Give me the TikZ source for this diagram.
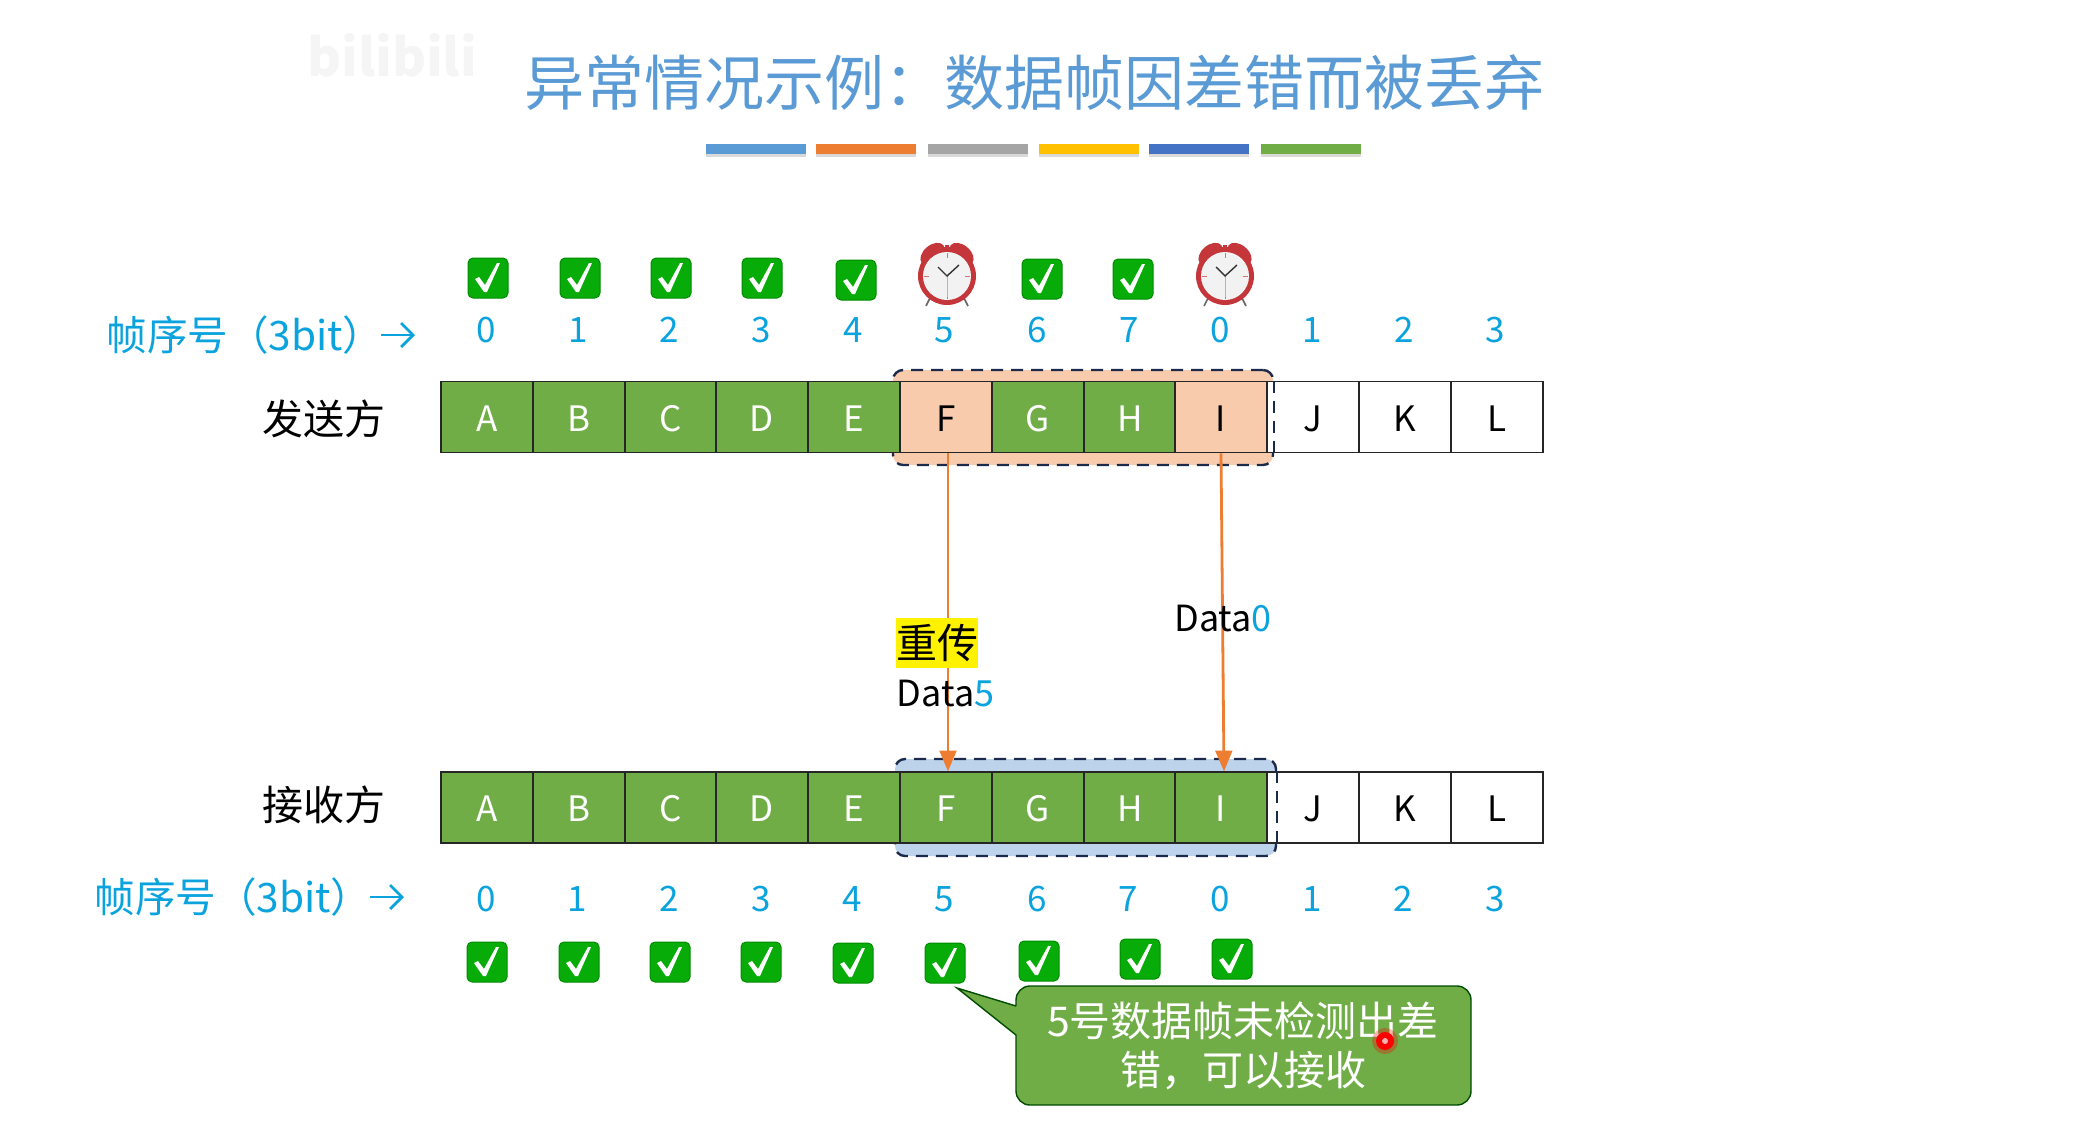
\documentclass[tikz,border=0pt]{standalone}
\usepackage{fontspec}
\setmainfont{Noto Sans CJK SC}
\usepackage{tikz}
\usetikzlibrary{arrows,arrows.meta,shadows}
\definecolor{titleblue}{HTML}{5B9BD5}
\definecolor{numblue}{HTML}{0BA3DE}
\definecolor{okgreen}{HTML}{70AD47}
\definecolor{barorange}{HTML}{ED7D31}
\definecolor{bargray}{HTML}{A5A5A5}
\definecolor{baryellow}{HTML}{FFC000}
\definecolor{bardeep}{HTML}{4472C4}
\definecolor{peach}{HTML}{F8CBAD}
\definecolor{paleblue}{HTML}{BDD3EC}
\definecolor{winline}{HTML}{1B2A4A}
\definecolor{tickgreen}{HTML}{08AC08}
\definecolor{clockred}{HTML}{C5363A}
\tikzset{
  bar/.style={minimum width=50pt,minimum height=5pt,inner sep=0pt,drop shadow={shadow xshift=0pt,shadow yshift=-1.5pt,opacity=.3}},
  cell/.style={draw=black!85,line width=.8pt,minimum width=45.9pt,minimum height=35.5pt,inner sep=0pt,text height=14pt,text depth=0pt,font=\fontsize{17.5}{20}\selectfont},
  done/.style={cell,fill=okgreen,text=white},
  sent/.style={cell,fill=peach},
  idle/.style={cell,fill=white},
  num/.style={text=numblue,inner sep=0pt,text height=12.5pt,text depth=0pt,font=\fontsize{17.5}{20}\selectfont},
  side/.style={inner sep=0pt,font=\fontsize{20.5}{24}\selectfont},
  seqlabel/.style={text=numblue,inner sep=0pt,font=\fontsize{20.3}{24}\selectfont},
  data/.style={inner sep=0pt,font=\fontsize{18}{20}\selectfont},
  win/.style={draw=winline,line width=1.2pt,dash pattern=on 6pt off 4pt,rounded corners=5pt,inner sep=0pt},
  windash/.style={draw=winline,line width=1.2pt,dash pattern=on 6pt off 4pt},
  frame/.style={-triangle 45,color=barorange,line width=1.4pt},
  seqarrow/.style={-{Straight Barb[length=6pt,width=12pt]},color=numblue,line width=1.4pt},
  okmark/.pic={
    \draw[fill=tickgreen,draw=green!55!black,line width=.5pt,rounded corners=2.5pt] (-20,-20) rectangle (20,20);
    \fill[white] (-13,1) -- (-9,-1) -- (-3,7) -- (9,-15) -- (12,-15) -- (-1,14) -- (-4,14) -- cycle;
  },
  alarm/.pic={
    \draw[black!60,line width=.8pt] (-17,22) -- (-21,30);
    \draw[black!60,line width=.8pt] (17,22) -- (21,30);
    \fill[clockred,rotate=-40] (-3,-26) ellipse (14pt*.5 and 9pt*.5);
    \fill[clockred,rotate=40] (3,-26) ellipse (14pt*.5 and 9pt*.5);
    \fill[clockred] (-2,-31) rectangle (2,-26);
    \fill[clockred] (0,0) circle (14.5pt);
    \fill[black!5] (0,0) circle (12pt);
    \draw[clockred!70,line width=.5pt] (0,-23) -- (0,-18);
    \draw[clockred!70,line width=.5pt] (0,23) -- (0,18);
    \draw[clockred!70,line width=.5pt] (-23,0) -- (-18,0);
    \draw[clockred!70,line width=.5pt] (23,0) -- (18,0);
    \draw[orange!70,line width=.4pt] (0,0) -- (0,21);
    \draw[black!80,line width=.7pt] (-9,-9) -- (0,0) -- (12,-11);
  }
}
\begin{document}
\begin{tikzpicture}[x=.5pt,y=-.5pt]
  \useasboundingbox (0,0) rectangle (2097,1130);
  \draw (392,55) node[text=black!4,font=\fontsize{26}{30}\selectfont\bfseries] (logo) {bilibili};
  \draw (1034,83) node[text=titleblue,inner sep=0pt,font=\fontsize{30}{36}\selectfont] (title) {异常情况示例^^^^ff1a数据帧因差错而被丢弃};

  \draw (756,149) node[bar,fill=titleblue] (bar1) {};
  \draw (865.5,149) node[bar,fill=barorange] (bar2) {};
  \draw (978,149) node[bar,fill=bargray] (bar3) {};
  \draw (1088.5,149) node[bar,fill=baryellow] (bar4) {};
  \draw (1199,149) node[bar,fill=bardeep] (bar5) {};
  \draw (1311,149) node[bar,fill=okgreen] (bar6) {};

  \draw (488,278) pic (sok0) {okmark};
  \draw (580,278) pic (sok1) {okmark};
  \draw (671,278) pic (sok2) {okmark};
  \draw (762,278) pic (sok3) {okmark};
  \draw (856,280) pic (sok4) {okmark};
  \draw (947,276) pic (clock5) {alarm};
  \draw (1042,279) pic (sok6) {okmark};
  \draw (1133,279) pic (sok7) {okmark};
  \draw (1225,276) pic (clock0) {alarm};

  \draw (245,335) node[seqlabel] (seqS) {帧序号^^^^ff083bit^^^^ff09};
  \draw (381,335) coordinate (seqSa);
  \draw (415,335) coordinate (seqSb);
  \path[seqarrow] (seqSa) edge (seqSb);
  \draw (486,330) node[num] (sn0) {0};
  \draw (578,330) node[num] (sn1) {1};
  \draw (669,330) node[num] (sn2) {2};
  \draw (761,330) node[num] (sn3) {3};
  \draw (853,330) node[num] (sn4) {4};
  \draw (944,330) node[num] (sn5) {5};
  \draw (1037,330) node[num] (sn6) {6};
  \draw (1129,330) node[num] (sn7) {7};
  \draw (1220,330) node[num] (sn8) {0};
  \draw (1312,330) node[num] (sn9) {1};
  \draw (1404,330) node[num] (sn10) {2};
  \draw (1495,330) node[num] (sn11) {3};

  \draw (324,419) node[side] (sender) {发送方};
  \draw (1083,417.5) node[win,fill=peach,minimum width=190pt,minimum height=47.5pt] (winS) {};
  \draw (487,417) node[done] (sA) {A};
  \draw (579,417) node[done] (sB) {B};
  \draw (671,417) node[done] (sC) {C};
  \draw (762,417) node[done] (sD) {D};
  \draw (854,417) node[done] (sE) {E};
  \draw (946,417) node[sent] (sF) {F};
  \draw (1038,417) node[done] (sG) {G};
  \draw (1130,417) node[done] (sH) {H};
  \draw (1221,417) node[sent] (sI) {I};
  \draw (1313,417) node[idle] (sJ) {J};
  \draw (1405,417) node[idle] (sK) {K};
  \draw (1497,417) node[idle] (sL) {L};
  \draw[windash] (winS.east |- sJ.north) -- (winS.east |- sJ.south);

  \draw (324,805) node[side] (receiver) {接收方};
  \draw (1085.5,807.5) node[win,fill=paleblue,minimum width=190.5pt,minimum height=48.5pt] (winR) {};
  \draw (487,807.5) node[done] (rA) {A};
  \draw (579,807.5) node[done] (rB) {B};
  \draw (671,807.5) node[done] (rC) {C};
  \draw (762,807.5) node[done] (rD) {D};
  \draw (854,807.5) node[done] (rE) {E};
  \draw (946,807.5) node[done] (rF) {F};
  \draw (1038,807.5) node[done] (rG) {G};
  \draw (1130,807.5) node[done] (rH) {H};
  \draw (1221,807.5) node[done] (rI) {I};
  \draw (1313,807.5) node[idle] (rJ) {J};
  \draw (1405,807.5) node[idle] (rK) {K};
  \draw (1497,807.5) node[idle] (rL) {L};
  \draw[windash] (winR.east |- rJ.north) -- (winR.east |- rJ.south);

  \path[frame] ([xshift=1pt]sF.south) edge ([xshift=1pt]rF.north);
  \path[frame] (sI.south) edge ([xshift=1.5pt]rI.north);

  \draw (937,643) node[side,fill=yellow,minimum width=41pt,minimum height=25pt] (resend) {重传};
  \draw (945.5,694) node[data] (data5) {Data\textcolor{numblue}{5}};
  \draw (1223,619) node[data] (data0) {Data\textcolor{numblue}{0}};

  \draw (233,897) node[seqlabel] (seqR) {帧序号^^^^ff083bit^^^^ff09};
  \draw (370,897) coordinate (seqRa);
  \draw (404,897) coordinate (seqRb);
  \path[seqarrow] (seqRa) edge (seqRb);
  \draw (486,899) node[num] (rn0) {0};
  \draw (577,899) node[num] (rn1) {1};
  \draw (669,899) node[num] (rn2) {2};
  \draw (761,899) node[num] (rn3) {3};
  \draw (852,899) node[num] (rn4) {4};
  \draw (944,899) node[num] (rn5) {5};
  \draw (1037,899) node[num] (rn6) {6};
  \draw (1128,899) node[num] (rn7) {7};
  \draw (1220,899) node[num] (rn8) {0};
  \draw (1312,899) node[num] (rn9) {1};
  \draw (1403,899) node[num] (rn10) {2};
  \draw (1495,899) node[num] (rn11) {3};

  \draw (487,962) pic (rok0) {okmark};
  \draw (579,962) pic (rok1) {okmark};
  \draw (670,962) pic (rok2) {okmark};
  \draw (761,962) pic (rok3) {okmark};
  \draw (853,963) pic (rok4) {okmark};
  \draw (945,963) pic (rok5) {okmark};
  \draw (1039,961) pic (rok6) {okmark};
  \draw (1140,959) pic (rok7) {okmark};
  \draw (1232,959) pic (rok8) {okmark};

  \draw[fill=okgreen,draw=black!70!green,line width=.7pt] (1016,1006) -- (957,988) -- (1016,1035) [rounded corners=7pt] -- (1016,1105) -- (1471,1105) -- (1471,986) -- (1016,986) -- (1016,1006);
  \draw (1243,1046) node[text=white,align=center,inner sep=0pt,font=\fontsize{20.5}{24.5}\selectfont] (note) {5号数据帧未检测出差\\错^^^^ff0c可以接收};

  \fill[red,opacity=.3] (1385,1041) circle (6.5pt);
  \fill[red] (1385,1041) circle (4.5pt);
  \fill[white!70!red] (1385,1041) circle (1.5pt);
\end{tikzpicture}
\end{document}
